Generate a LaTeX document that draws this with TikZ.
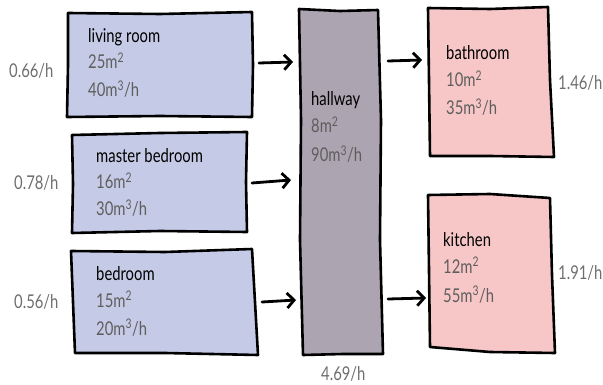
\documentclass[tikz,border=0pt]{standalone}
\usepackage{fontspec}
\setmainfont{Lato}
\newfontfamily\hand[FakeStretch=0.78]{Lato}
\usetikzlibrary{arrows.meta}
\definecolor{coolblue}{HTML}{C5CBE6}
\definecolor{hallgray}{HTML}{ACA4B0}
\definecolor{warmpink}{HTML}{F7C6C6}
\definecolor{valgray}{HTML}{5E5E5E}
\definecolor{rategray}{HTML}{6E6E6E}
\tikzset{
  room/.style={draw=black, line width=2.6pt, line join=round},
  title/.style={anchor=base west, inner sep=0pt, font=\hand\fontsize{19}{19}\selectfont, text=black},
  val/.style={anchor=base west, inner sep=0pt, font=\hand\fontsize{19}{19}\selectfont, text=valgray},
  rate/.style={anchor=base west, inner sep=0pt, font=\hand\fontsize{19}{19}\selectfont, text=rategray},
  flow/.style={line width=2.8pt, line cap=round, -{Straight Barb[length=7pt,width=15pt,line width=2.8pt]}}
}
\begin{document}
\begin{tikzpicture}[x=1pt,y=-1pt]
\useasboundingbox (0,0) rectangle (603,385);

% rooms (slightly hand-drawn outlines)
\draw[room, fill=coolblue] (68,13) -- (160,14) -- (252,12) -- (253,65) -- (252,117) -- (160,116) -- (67,117) -- (68,65) -- cycle;
\draw[room, fill=coolblue] (72,135) -- (160,133) -- (247,132) -- (246,182) -- (247,232) -- (160,231) -- (72,233) -- (73,184) -- cycle;
\draw[room, fill=coolblue] (71,251) -- (165,252) -- (252,249) -- (255,302) -- (258,355) -- (165,353) -- (75,353) -- (73,302) -- cycle;
\draw[room, fill=hallgray] (299,9) -- (340,11) -- (378,10) -- (381,120) -- (380,240) -- (383,354) -- (343,354) -- (303,355) -- (300,240) -- (301,120) -- cycle;
\draw[room, fill=warmpink] (428,8) -- (490,9) -- (548,7) -- (550,80) -- (554,157) -- (490,156) -- (430,156) -- (429,80) -- cycle;
\draw[room, fill=warmpink] (428,195) -- (490,194) -- (550,198) -- (552,275) -- (555,353) -- (490,352) -- (430,347) -- (429,270) -- cycle;

% room labels
\node[title] (lrT) at (88,43) {living room};
\node[val] (lrA) at (88,69) {25m\textsuperscript{2}};
\node[val] (lrF) at (88,97) {40m\textsuperscript{3}/h};

\node[title] (mbT) at (96,163) {master bedroom};
\node[val] (mbA) at (96,189) {16m\textsuperscript{2}};
\node[val] (mbF) at (96,216) {30m\textsuperscript{3}/h};

\node[title] (bdT) at (96,280) {bedroom};
\node[val] (bdA) at (96,307) {15m\textsuperscript{2}};
\node[val] (bdF) at (96,335) {20m\textsuperscript{3}/h};

\node[title] (hwT) at (311,106) {hallway};
\node[val] (hwA) at (311,133) {8m\textsuperscript{2}};
\node[val] (hwF) at (311,162) {90m\textsuperscript{3}/h};

\node[title] (baT) at (446,60) {bathroom};
\node[val] (baA) at (446,87) {10m\textsuperscript{2}};
\node[val] (baF) at (446,115) {35m\textsuperscript{3}/h};

\node[title] (kiT) at (443,247) {kitchen};
\node[val] (kiA) at (443,273) {12m\textsuperscript{2}};
\node[val] (kiF) at (443,302) {55m\textsuperscript{3}/h};

% air change rates
\node[rate] (lrR) at (9,78) {0.66/h};
\node[rate] (mbR) at (14,190) {0.78/h};
\node[rate] (bdR) at (14,308) {0.56/h};
\node[rate] (baR) at (558,90) {1.46/h};
\node[rate] (kiR) at (558,279) {1.91/h};
\node[rate] (hwR) at (321,380) {4.69/h};

% air flow
\coordinate (lrOut) at (259,63);
\coordinate (hwIn1) at (293,62);
\coordinate (mbOut) at (252,183);
\coordinate (hwIn2) at (291,180);
\coordinate (bdOut) at (262,302);
\coordinate (hwIn3) at (296,300);
\coordinate (hwOut1) at (388,61);
\coordinate (baIn) at (422,60);
\coordinate (hwOut2) at (388,299);
\coordinate (kiIn) at (426,298);

\draw[flow] (lrOut) -- (hwIn1);
\draw[flow] (mbOut) -- (hwIn2);
\draw[flow] (bdOut) -- (hwIn3);
\draw[flow] (hwOut1) -- (baIn);
\draw[flow] (hwOut2) -- (kiIn);
\end{tikzpicture}
\end{document}
